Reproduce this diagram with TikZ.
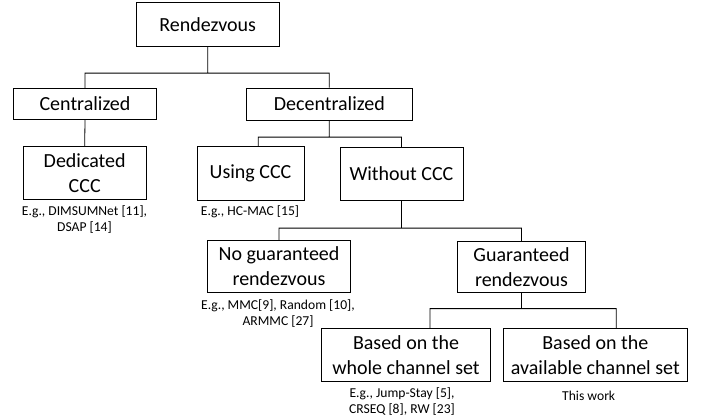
\documentclass[tikz,border=0pt]{standalone}
\usepackage{fontspec}
\setmainfont{Carlito}
\usepackage{tikz}
\usetikzlibrary{positioning}
\tikzstyle{-}    = [draw, line width=0.8pt]
\tikzstyle{box}  = [draw, line width=0.8pt, inner sep=0pt, align=center, font=\fontsize{20}{25}\selectfont]
\tikzstyle{eg}   = [inner sep=0pt, align=center, font=\fontsize{13.6}{16}\selectfont]

\begin{document}
\begin{tikzpicture}[x=1pt, y=-1pt]
\useasboundingbox (0,0) rectangle (705,416);

% nodes
\node [box, minimum width=143.5pt, minimum height=44pt] at (207.7, 24.7) (rdv)     {Rendezvous};
\node [box, minimum width=143.4pt, minimum height=31pt] at ( 85  ,103.8) (cen)     {Centralized};
\node [box, minimum width=165.3pt, minimum height=32pt] at (329.3,104  ) (dec)     {Decentralized};
\node [box, minimum width=122.7pt, minimum height=53pt] at ( 84.7,173.3) (ded)     {Dedicated\\CCC};
\node [box, minimum width=107pt,   minimum height=54pt] at (250.5,173.7) (using)   {Using CCC};
\node [box, minimum width=123pt,   minimum height=53pt] at (401.5,173.7) (without) {Without CCC};
\node [box, minimum width=143.7pt, minimum height=52pt] at (279  ,266.2) (nog)     {No guaranteed\\rendezvous};
\node [box, minimum width=127.7pt, minimum height=51pt] at (521.5,266.7) (gua)     {Guaranteed\\rendezvous};
\node [box, minimum width=168.6pt, minimum height=53pt] at (406  ,355  ) (whole)   {Based on the\\whole channel set};
\node [box, minimum width=183.3pt, minimum height=53pt] at (595.3,355  ) (avail)   {Based on the\\available channel set};

% examples
\node [eg] at ( 84.5,220  ) (egded)   {E.g., DIMSUMNet [11],\\DSAP [14]};
\node [eg] at (250  ,212  ) (egusing) {E.g., HC-MAC [15]};
\node [eg] at (278  ,313.5) (egnog)   {E.g., MMC[9], Random [10],\\ARMMC [27]};
\node [eg] at (402  ,401.5) (egwhole) {E.g., Jump-Stay [5],\\CRSEQ [8], RW [23]};
\node [eg] at (588.7,396  ) (egavail) {This work};

% edges
\path [-] (rdv.south)     -- ++(0,26)   -| (cen.north)
          (rdv.south)     -- ++(0,26)   -| (dec.north)
          (cen.south)     --               (ded.north)
          (dec.south)     -- ++(0,16.7) -| ([xshift=7.8pt]using.north)
          (dec.south)     -- ++(0,16.7) -| (without.north)
          (without.south) -- ++(0,27.5) -| (nog.north)
          (without.south) -- ++(0,27.5) -| (gua.north)
          (gua.south)     -- ++(0,16)   -| ([xshift=24pt]whole.north)
          (gua.south)     -- ++(0,16)   -| ([xshift=21pt]avail.north);

\end{tikzpicture}
\end{document}
